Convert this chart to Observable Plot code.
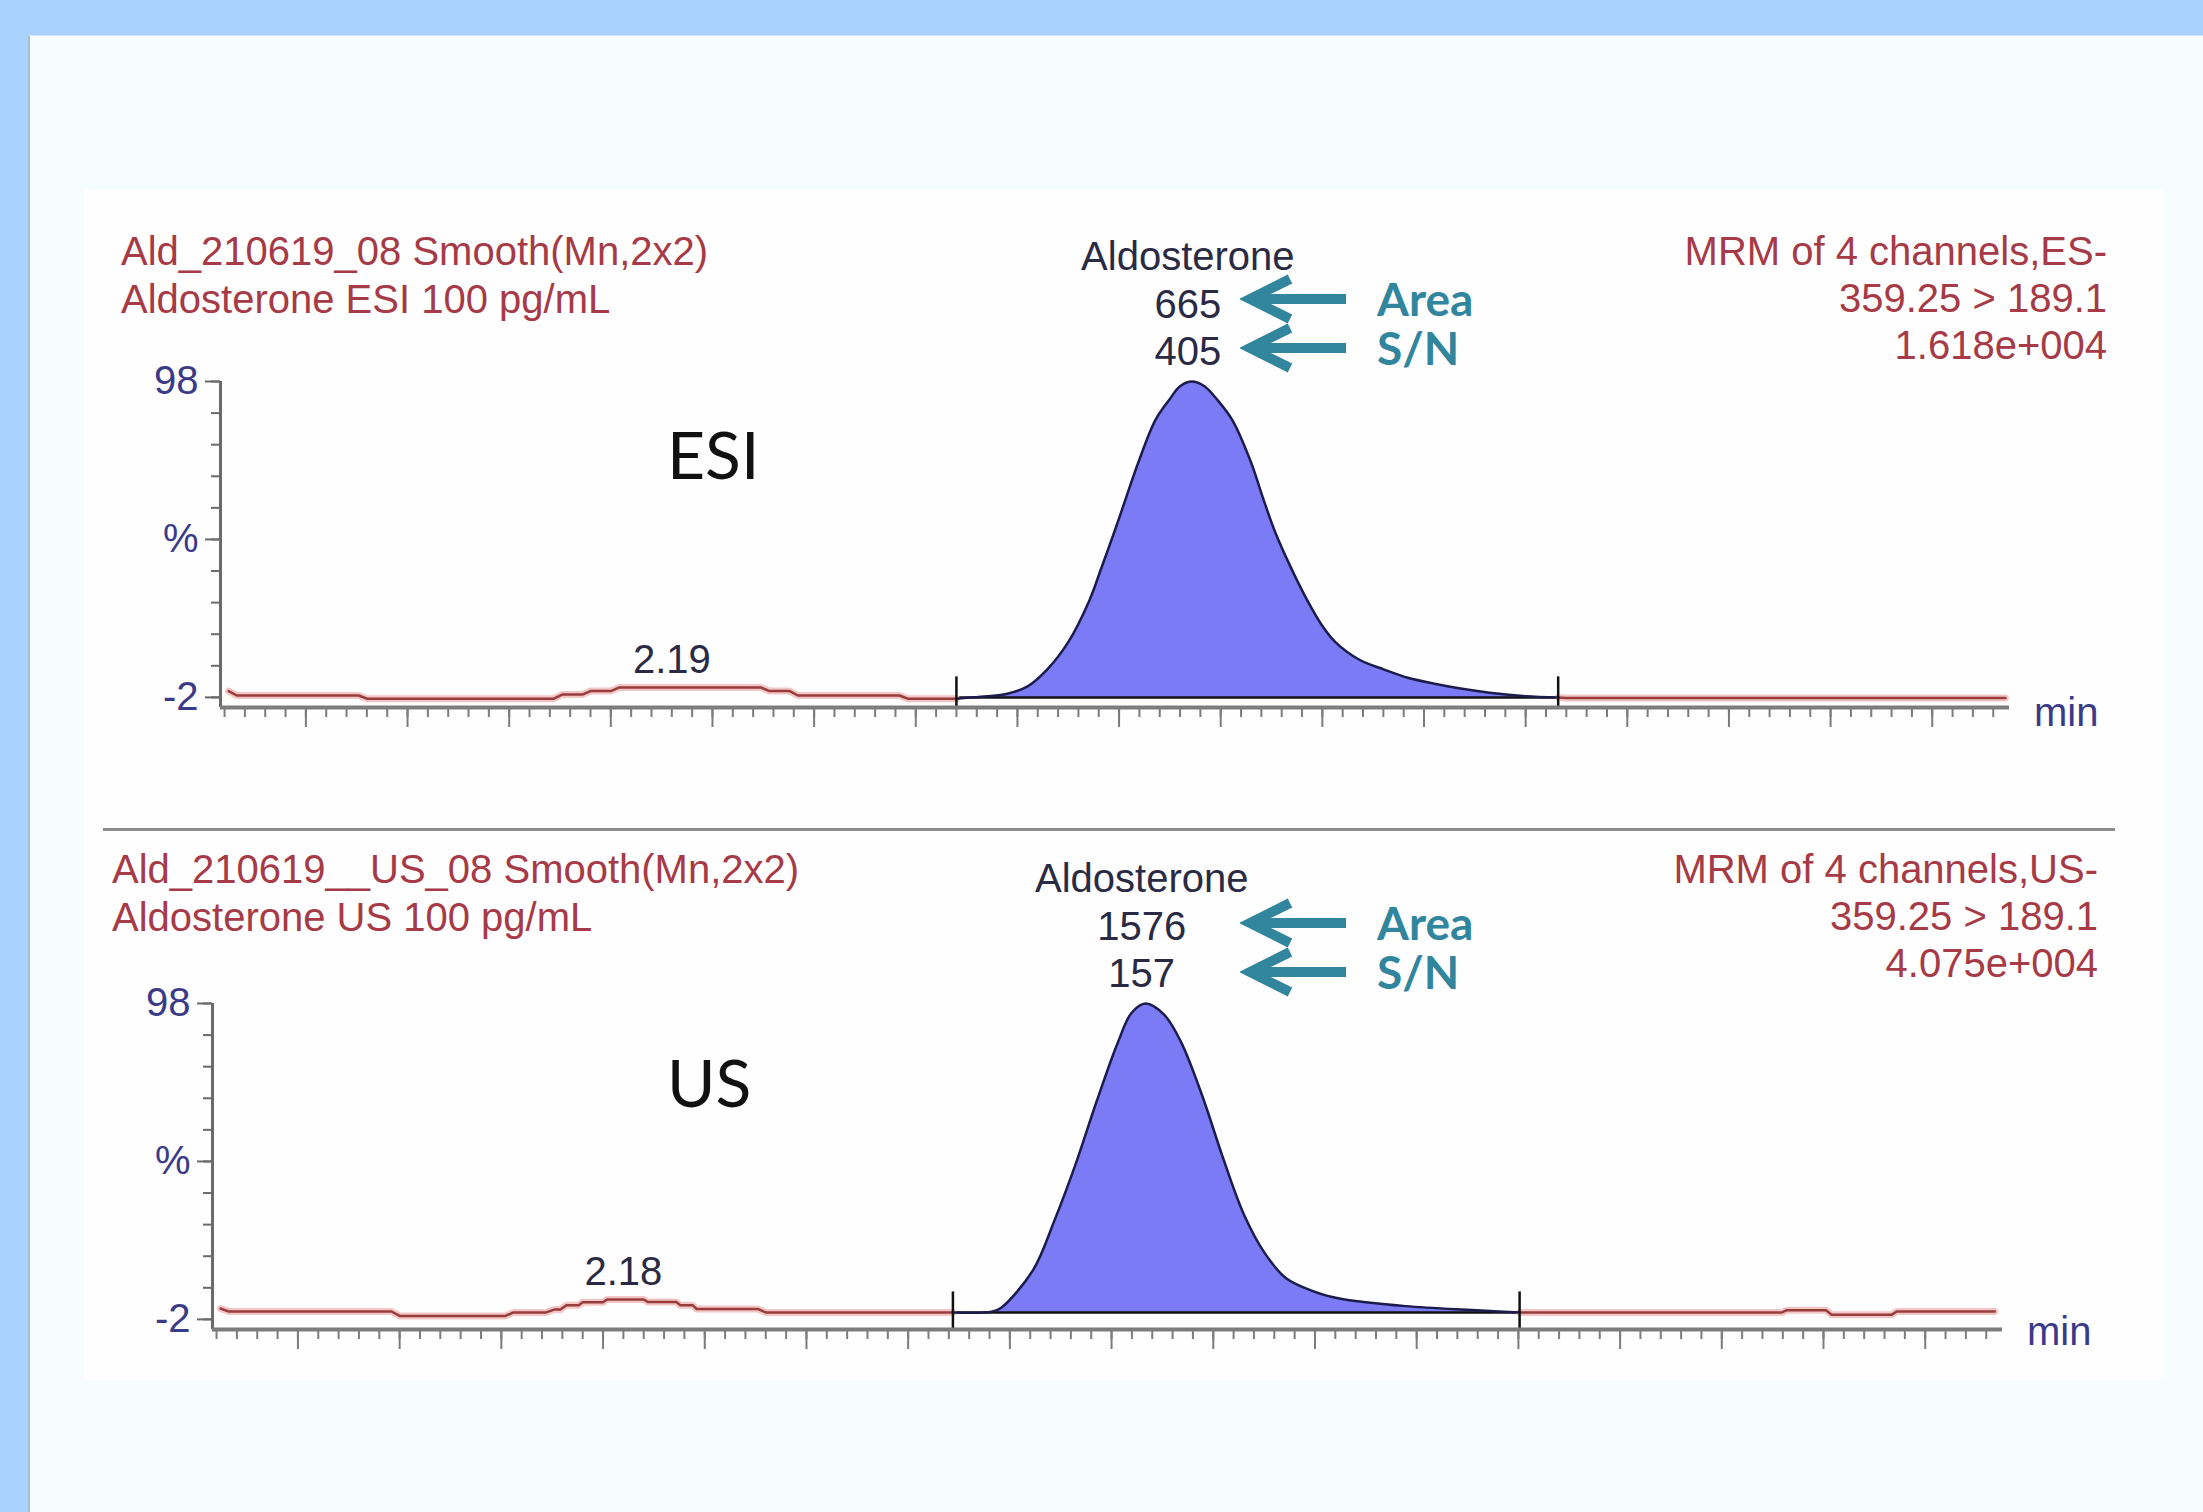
<!DOCTYPE html>
<html>
<head>
<meta charset="utf-8">
<script src="https://cdn.jsdelivr.net/npm/d3@7"></script>
<script src="https://cdn.jsdelivr.net/npm/@observablehq/plot@0.6"></script>
<style>
  html, body { margin: 0; padding: 0; }
  body { width: 2203px; height: 1512px; background: #a9d3fe; position: relative; overflow: hidden;
         font-family: "Liberation Sans", Arial, sans-serif; }
  #sheet { position: absolute; left: 28px; top: 35px; width: 2175px; height: 1477px; background: #f7fcfe;
           border-left: 2px solid #a7bccf; border-top: 1px solid #d5e6f2; }
  #inner { position: absolute; left: 84px; top: 190px; width: 2079px; height: 1190px; background: #fefefe; }
  .abs { position: absolute; white-space: nowrap; }
  .hdr { font-size: 40px; line-height: 46px; color: #a63a46; }
  .hdrR { text-align: right; }
  .tag { font-family: Lato, "Open Sans", sans-serif; font-weight: 700; font-size: 46px; line-height: 42px; color: #31859c; }
  .big { font-family: Lato, "Open Sans", sans-serif; font-size: 66px; line-height: 70px; color: #111; }
  .unit { font-size: 40px; line-height: 40px; color: #3a3a88; }
  .panel { position: absolute; left: 0; }
  #divider { position: absolute; left: 103px; top: 828px; width: 2012px; height: 3px; background: #8c8c8c; }
</style>
</head>
<body>
<div id="sheet"></div>
<div id="inner"></div>
<div id="divider"></div>
<div id="root"></div>
<script>
// ---------------- data ----------------
// shared time axis (min)
const xDomain = [2.079, 2.519];
const yDomain = [-5.2, 98];
const yTickLabels = [[98, "98"], [48, "%"], [-2, "-2"]];

// ESI chromatogram (time in min, intensity in %)
const esiTime = [2.081, 2.083, 2.113, 2.115, 2.161, 2.163, 2.168, 2.170, 2.175, 2.177, 2.212, 2.214, 2.219, 2.221,
  2.246, 2.248, 2.260, 2.266, 2.272, 2.2775, 2.2823, 2.2875, 2.2927, 2.2958, 2.2989, 2.3018, 2.3048, 2.3089,
  2.3124, 2.3150, 2.3179, 2.3210, 2.3241, 2.3279, 2.3324, 2.3353, 2.3383, 2.3423, 2.3463, 2.3498, 2.3532,
  2.3590, 2.3652, 2.3710, 2.3773, 2.3840, 2.3911, 2.400, 2.408, 2.410, 2.518];
const esiSignal = [0.0, -1.4, -1.4, -2.4, -2.4, -1.1, -1.1, 0.0, 0.0, 1.1, 1.1, 0.0, 0.0, -1.4,
  -1.4, -2.4, -2.4, -1.8, -1.0, 1.5, 6.8, 15.5, 28.7, 39.5, 50.6, 61.5, 72.6, 85.7,
  92.3, 96.5, 98.0, 96.5, 92.3, 85.7, 72.6, 61.5, 50.6, 39.0, 28.7, 21.0, 15.5,
  10.0, 6.8, 4.2, 2.4, 0.8, -0.5, -1.6, -2.0, -2.2, -2.2];
const esiWindow = [2.260, 2.408];
const esiBaseline = -2.0;
const esiMinorPeak = [{rt: 2.19, height: 1.1, label: "2.19"}];
const esiMainPeak = [{rt: 2.3179, height: 98, name: "Aldosterone", area: "665", sn: "405"}];

// US chromatogram
const usTime = [2.081, 2.083, 2.123, 2.125, 2.151, 2.153, 2.161, 2.163, 2.1645, 2.166, 2.169, 2.170, 2.175, 2.176,
  2.185, 2.186, 2.193, 2.194, 2.197, 2.198, 2.213, 2.215, 2.261, 2.2705, 2.2728, 2.2807, 2.2859, 2.2911, 2.2963,
  2.3015, 2.3049, 2.3084, 2.3129, 2.3170, 2.3222, 2.3274, 2.3325, 2.3377, 2.3429, 2.3498, 2.3560, 2.3619,
  2.3723, 2.3861, 2.3940, 2.4003, 2.4008, 2.4648, 2.466, 2.4756, 2.477, 2.4918, 2.493, 2.5171];
const usSignal = [1.4, 0.5, 0.5, -0.9, -0.9, 0.2, 0.2, 1.1, 1.1, 2.5, 2.5, 3.4, 3.4, 4.3,
  4.3, 3.5, 3.5, 2.5, 2.5, 1.3, 1.3, 0.2, 0.2, 0.4, 1.6, 13.6, 29.1, 46.9, 66.9,
  85.5, 95.0, 98.0, 94.5, 86.0, 69.1, 49.1, 31.3, 18.9, 11.0, 6.8, 4.6, 3.5,
  2.2, 1.1, 0.6, 0.2, 0.2, 0.2, 0.9, 0.9, -0.5, -0.5, 0.5, 0.5];
const usWindow = [2.261, 2.4003];
const usBaseline = 0.2;
const usMinorPeak = [{rt: 2.18, height: 4.3, label: "2.18"}];
const usMainPeak = [{rt: 2.3084, height: 98, name: "Aldosterone", area: "1576", sn: "157"}];

// x ticks (min)
const minorTicks = d3.range(416, 504).map(i => +(i * 0.005).toFixed(3));
const majorTicks = d3.range(84, 101).map(i => +(i * 0.025).toFixed(3));

// header texts
const esiHeaderLeft = ["Ald_210619_08 Smooth(Mn,2x2)", "Aldosterone ESI 100 pg/mL"];
const esiHeaderRight = ["MRM of 4 channels,ES-", "359.25 > 189.1", "1.618e+004"];
const usHeaderLeft = ["Ald_210619__US_08 Smooth(Mn,2x2)", "Aldosterone US 100 pg/mL"];
const usHeaderRight = ["MRM of 4 channels,US-", "359.25 > 189.1", "4.075e+004"];

// ---------------- drawing ----------------
const root = document.getElementById("root");
const yLabelMap = new Map(yTickLabels);

function panelPlot({time, signal, win, base, minor, main, marginLeft, marginRight}) {
  const pts = time.map((t, i) => ({t, v: signal[i]}));
  const inWin = pts.filter(d => d.t >= win[0] && d.t <= win[1]);
  const before = pts.filter(d => d.t <= win[0]);
  const after = pts.filter(d => d.t >= win[1]);
  const textStyle = {fill: "#2a2a44", fontSize: 40, fontFamily: "Liberation Sans"};
  return Plot.plot({
    width: 2203, height: 560,
    marginLeft, marginRight, marginTop: 181, marginBottom: 53,
    x: {domain: xDomain},
    y: {domain: yDomain},
    style: {background: "transparent", fontFamily: "Liberation Sans", overflow: "visible"},
    marks: [
      Plot.areaY(inWin, {x: "t", y1: base, y2: "v", fill: "#7b7bf6", curve: "catmull-rom"}),
      Plot.ruleY([base], {x1: win[0], x2: win[1], stroke: "#111", strokeWidth: 2.5}),
      Plot.line(before, {x: "t", y: "v", stroke: "#f3c6c6", strokeWidth: 7}),
      Plot.line(before, {x: "t", y: "v", stroke: "#983c3c", strokeWidth: 2.5}),
      Plot.line(after, {x: "t", y: "v", stroke: "#f3c6c6", strokeWidth: 7}),
      Plot.line(after, {x: "t", y: "v", stroke: "#983c3c", strokeWidth: 2.5}),
      Plot.line(inWin, {x: "t", y: "v", stroke: "#1c1c4c", strokeWidth: 2.5, curve: "catmull-rom"}),
      Plot.ruleX(win, {y1: yDomain[0], y2: base + 6.5, stroke: "#111", strokeWidth: 2.5}),
      // axes
      Plot.ruleX([xDomain[0]], {y1: yDomain[0], y2: 98, stroke: "#6a6a6a", strokeWidth: 3}),
      Plot.ruleY([yDomain[0]], {stroke: "#7c7c7c", strokeWidth: 4}),
      Plot.axisY({ticks: d3.range(-2, 99, 10), tickSize: 9, tickFormat: () => "", stroke: "#6a6a6a", strokeWidth: 2}),
      Plot.axisY({ticks: yTickLabels.map(d => d[0]), tickSize: 15, tickPadding: 7,
        tickFormat: d => yLabelMap.get(d), fontSize: 40, fill: "#3a3a88", stroke: "#6a6a6a", strokeWidth: 2}),
      Plot.axisX({ticks: minorTicks, tickSize: 10, tickFormat: () => "", stroke: "#7c7c7c", strokeWidth: 2}),
      Plot.axisX({ticks: majorTicks, tickSize: 20, tickFormat: () => "", stroke: "#7c7c7c", strokeWidth: 2}),
      // peak labels
      Plot.text(minor, {x: "rt", y: "height", text: "label", dy: -27, ...textStyle}),
      Plot.text(main, {x: "rt", y: "height", text: "name", dx: -4, dy: -124, ...textStyle}),
      Plot.text(main, {x: "rt", y: "height", text: "area", dx: -4, dy: -76, ...textStyle}),
      Plot.text(main, {x: "rt", y: "height", text: "sn", dx: -4, dy: -29, ...textStyle})
    ]
  });
}

function addDiv(cls, text, css) {
  const d = document.createElement("div");
  d.className = "abs " + cls;
  d.textContent = text;
  Object.assign(d.style, css);
  root.appendChild(d);
  return d;
}

function addArrow(left, cy) {
  const ns = "http://www.w3.org/2000/svg";
  const s = document.createElementNS(ns, "svg");
  s.setAttribute("width", 112); s.setAttribute("height", 56);
  s.style.position = "absolute"; s.style.left = left + "px"; s.style.top = (cy - 28) + "px";
  const p = document.createElementNS(ns, "path");
  p.setAttribute("d", "M106,28 L10,28 M50,8 L10,28 L50,48");
  p.setAttribute("stroke", "#31859c"); p.setAttribute("stroke-width", 10);
  p.setAttribute("fill", "none"); p.setAttribute("stroke-linejoin", "miter");
  s.appendChild(p);
  root.appendChild(s);
}

function buildPanel(cfg) {
  const svg = panelPlot(cfg);
  const wrap = document.createElement("div");
  wrap.className = "panel";
  wrap.style.top = cfg.top + "px";
  wrap.appendChild(svg);
  root.appendChild(wrap);
  cfg.headerLeft.forEach((t, i) => addDiv("hdr", t, {left: cfg.hdrLeftX + "px", top: (cfg.hdrY + i * 48 - 23) + "px"}));
  cfg.headerRight.forEach((t, i) => addDiv("hdr hdrR", t, {right: cfg.hdrRight + "px", top: (cfg.hdrY + i * 47 - 23) + "px"}));
  addArrow(1240, cfg.tagY[0]);
  addArrow(1240, cfg.tagY[1]);
  addDiv("tag", "Area", {left: "1377px", top: (cfg.tagY[0] - 21) + "px"});
  addDiv("tag", "S/N", {left: "1377px", top: (cfg.tagY[1] - 21) + "px"});
  addDiv("big", cfg.big, {left: "667px", top: (cfg.bigY - 35) + "px"});
  addDiv("unit", "min", {left: cfg.minX + "px", top: (cfg.minY - 20) + "px"});
}

buildPanel({time: esiTime, signal: esiSignal, win: esiWindow, base: esiBaseline, minor: esiMinorPeak, main: esiMainPeak,
  marginLeft: 220, marginRight: 194, top: 200,
  headerLeft: esiHeaderLeft, headerRight: esiHeaderRight, hdrLeftX: 121, hdrRight: 96, hdrY: 251,
  tagY: [299, 348], big: "ESI", bigY: 454, minX: 2034, minY: 712});

buildPanel({time: usTime, signal: usSignal, win: usWindow, base: usBaseline, minor: usMinorPeak, main: usMainPeak,
  marginLeft: 212, marginRight: 201, top: 822,
  headerLeft: usHeaderLeft, headerRight: usHeaderRight, hdrLeftX: 112, hdrRight: 105, hdrY: 869,
  tagY: [923, 972], big: "US", bigY: 1082, minX: 2027, minY: 1331});
</script>
</body>
</html>
